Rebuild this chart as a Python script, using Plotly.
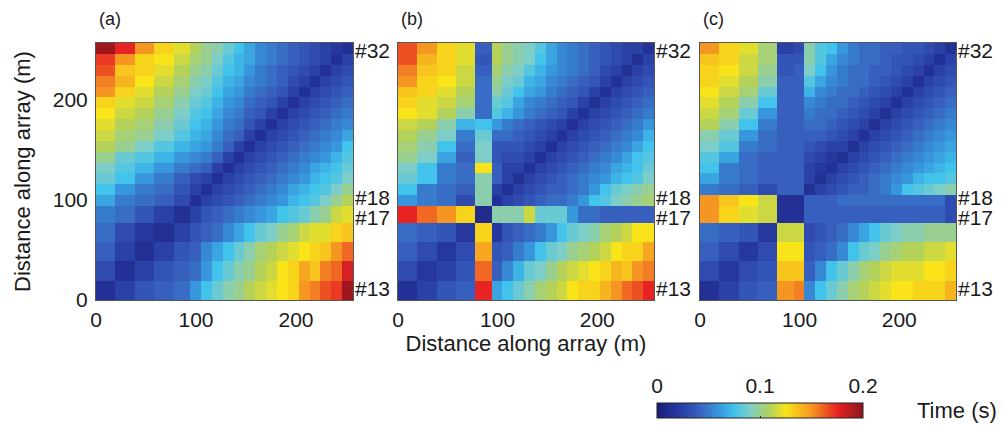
import plotly.graph_objects as go

# ---------------- data ----------------
station_ids = [13, 14, 15, 16, 17, 18, 19, 20, 21, 22, 23, 24, 25, 26, 27, 28, 29, 30, 31, 32]
# cell boundaries (m) of the 20 stations along the array
cell_edges_m = [0.0, 19.4, 38.8, 58.1, 77.5, 94.0, 104.9, 115.7, 126.6, 137.5, 148.3,
                159.2, 170.1, 180.9, 191.8, 202.7, 213.5, 224.4, 235.3, 246.1, 257.0]
labeled_stations = [32, 18, 17, 13]
axis_ticks = [0, 100, 200]
colorbar_ticks = [0, 0.1, 0.2]
colorbar_ticktext = ["0", "0.1", "0.2"]
panel_names = ["(a)", "(b)", "(c)"]

# travel times (s); rows = station #13 (bottom) ... #32 (top)
times_a = [
    [0.015, 0.025, 0.035, 0.040, 0.045, 0.060, 0.075, 0.085, 0.095, 0.100, 0.110, 0.115, 0.120, 0.125, 0.130, 0.150, 0.155, 0.165, 0.170, 0.195],
    [0.030, 0.015, 0.025, 0.035, 0.040, 0.045, 0.060, 0.075, 0.085, 0.095, 0.100, 0.110, 0.115, 0.125, 0.130, 0.145, 0.135, 0.155, 0.160, 0.180],
    [0.040, 0.025, 0.015, 0.025, 0.035, 0.040, 0.055, 0.065, 0.075, 0.085, 0.095, 0.105, 0.110, 0.115, 0.120, 0.125, 0.130, 0.135, 0.150, 0.160],
    [0.045, 0.030, 0.020, 0.015, 0.025, 0.035, 0.040, 0.045, 0.055, 0.065, 0.075, 0.085, 0.090, 0.100, 0.105, 0.115, 0.120, 0.120, 0.130, 0.135],
    [0.050, 0.045, 0.035, 0.025, 0.015, 0.025, 0.035, 0.040, 0.045, 0.050, 0.055, 0.060, 0.065, 0.075, 0.080, 0.085, 0.095, 0.100, 0.115, 0.120],
    [0.065, 0.050, 0.045, 0.040, 0.030, 0.015, 0.025, 0.030, 0.035, 0.040, 0.045, 0.050, 0.055, 0.060, 0.070, 0.075, 0.080, 0.090, 0.100, 0.110],
    [0.075, 0.060, 0.050, 0.045, 0.035, 0.025, 0.015, 0.025, 0.030, 0.035, 0.040, 0.045, 0.050, 0.055, 0.065, 0.070, 0.075, 0.080, 0.090, 0.100],
    [0.085, 0.075, 0.060, 0.050, 0.040, 0.030, 0.025, 0.015, 0.025, 0.030, 0.035, 0.040, 0.045, 0.050, 0.055, 0.060, 0.070, 0.075, 0.080, 0.090],
    [0.090, 0.080, 0.070, 0.060, 0.050, 0.045, 0.040, 0.025, 0.015, 0.025, 0.030, 0.035, 0.040, 0.045, 0.050, 0.055, 0.065, 0.070, 0.075, 0.085],
    [0.100, 0.085, 0.080, 0.070, 0.060, 0.055, 0.050, 0.040, 0.025, 0.015, 0.025, 0.030, 0.035, 0.040, 0.045, 0.050, 0.055, 0.060, 0.070, 0.080],
    [0.110, 0.100, 0.090, 0.080, 0.070, 0.065, 0.060, 0.050, 0.040, 0.025, 0.015, 0.025, 0.030, 0.035, 0.040, 0.045, 0.050, 0.055, 0.060, 0.075],
    [0.115, 0.105, 0.100, 0.090, 0.080, 0.070, 0.065, 0.055, 0.045, 0.040, 0.025, 0.015, 0.025, 0.030, 0.035, 0.040, 0.045, 0.050, 0.055, 0.065],
    [0.120, 0.110, 0.105, 0.095, 0.085, 0.075, 0.070, 0.060, 0.050, 0.045, 0.035, 0.025, 0.015, 0.025, 0.030, 0.035, 0.040, 0.045, 0.050, 0.055],
    [0.125, 0.115, 0.110, 0.100, 0.090, 0.080, 0.075, 0.065, 0.055, 0.050, 0.040, 0.035, 0.025, 0.015, 0.025, 0.030, 0.035, 0.040, 0.045, 0.050],
    [0.130, 0.120, 0.115, 0.105, 0.095, 0.085, 0.080, 0.070, 0.060, 0.055, 0.045, 0.040, 0.035, 0.025, 0.015, 0.025, 0.030, 0.035, 0.040, 0.045],
    [0.150, 0.130, 0.120, 0.110, 0.100, 0.090, 0.085, 0.075, 0.065, 0.060, 0.050, 0.045, 0.040, 0.035, 0.025, 0.015, 0.025, 0.030, 0.035, 0.040],
    [0.155, 0.140, 0.125, 0.115, 0.105, 0.095, 0.090, 0.080, 0.070, 0.065, 0.055, 0.050, 0.045, 0.040, 0.030, 0.025, 0.015, 0.025, 0.030, 0.035],
    [0.165, 0.135, 0.130, 0.120, 0.110, 0.100, 0.095, 0.085, 0.075, 0.070, 0.060, 0.050, 0.045, 0.040, 0.035, 0.030, 0.025, 0.015, 0.025, 0.030],
    [0.170, 0.150, 0.130, 0.125, 0.115, 0.105, 0.100, 0.090, 0.080, 0.070, 0.065, 0.055, 0.050, 0.045, 0.040, 0.035, 0.030, 0.025, 0.015, 0.025],
    [0.195, 0.175, 0.150, 0.130, 0.120, 0.110, 0.100, 0.095, 0.085, 0.075, 0.065, 0.055, 0.050, 0.045, 0.040, 0.035, 0.030, 0.025, 0.020, 0.015],
]

times_b = [
    [0.015, 0.025, 0.035, 0.040, 0.175, 0.065, 0.075, 0.085, 0.095, 0.105, 0.110, 0.115, 0.125, 0.130, 0.130, 0.140, 0.150, 0.160, 0.165, 0.175],
    [0.030, 0.020, 0.025, 0.035, 0.160, 0.040, 0.055, 0.070, 0.085, 0.090, 0.100, 0.110, 0.115, 0.120, 0.125, 0.130, 0.140, 0.135, 0.150, 0.155],
    [0.040, 0.030, 0.020, 0.030, 0.145, 0.035, 0.040, 0.050, 0.060, 0.075, 0.085, 0.090, 0.100, 0.105, 0.110, 0.115, 0.125, 0.130, 0.130, 0.145],
    [0.045, 0.040, 0.035, 0.020, 0.130, 0.020, 0.035, 0.040, 0.045, 0.050, 0.060, 0.075, 0.085, 0.090, 0.095, 0.105, 0.110, 0.115, 0.125, 0.125],
    [0.175, 0.160, 0.150, 0.130, 0.010, 0.095, 0.095, 0.095, 0.115, 0.085, 0.085, 0.085, 0.060, 0.045, 0.045, 0.040, 0.040, 0.040, 0.040, 0.040],
    [0.060, 0.050, 0.045, 0.030, 0.095, 0.015, 0.025, 0.030, 0.035, 0.040, 0.045, 0.045, 0.050, 0.060, 0.075, 0.080, 0.090, 0.095, 0.100, 0.105],
    [0.075, 0.050, 0.045, 0.040, 0.095, 0.025, 0.015, 0.025, 0.030, 0.035, 0.040, 0.040, 0.045, 0.050, 0.060, 0.075, 0.085, 0.090, 0.095, 0.100],
    [0.085, 0.075, 0.050, 0.045, 0.095, 0.040, 0.025, 0.015, 0.025, 0.030, 0.035, 0.040, 0.045, 0.050, 0.055, 0.060, 0.070, 0.075, 0.080, 0.090],
    [0.090, 0.075, 0.050, 0.045, 0.125, 0.040, 0.025, 0.025, 0.015, 0.025, 0.030, 0.035, 0.040, 0.045, 0.050, 0.055, 0.065, 0.070, 0.075, 0.085],
    [0.100, 0.090, 0.065, 0.040, 0.090, 0.035, 0.030, 0.030, 0.025, 0.015, 0.025, 0.030, 0.035, 0.040, 0.045, 0.050, 0.055, 0.065, 0.075, 0.080],
    [0.105, 0.095, 0.075, 0.045, 0.090, 0.035, 0.035, 0.035, 0.030, 0.025, 0.015, 0.025, 0.030, 0.035, 0.040, 0.045, 0.050, 0.055, 0.065, 0.075],
    [0.110, 0.100, 0.090, 0.050, 0.085, 0.045, 0.045, 0.040, 0.035, 0.030, 0.025, 0.015, 0.025, 0.030, 0.035, 0.040, 0.045, 0.050, 0.055, 0.070],
    [0.115, 0.110, 0.095, 0.070, 0.075, 0.060, 0.050, 0.045, 0.040, 0.035, 0.030, 0.025, 0.015, 0.025, 0.030, 0.035, 0.040, 0.045, 0.050, 0.060],
    [0.125, 0.120, 0.110, 0.095, 0.045, 0.080, 0.070, 0.060, 0.050, 0.045, 0.040, 0.035, 0.025, 0.015, 0.025, 0.030, 0.035, 0.040, 0.045, 0.050],
    [0.130, 0.120, 0.115, 0.105, 0.045, 0.085, 0.080, 0.065, 0.055, 0.050, 0.045, 0.040, 0.035, 0.025, 0.015, 0.025, 0.030, 0.035, 0.040, 0.045],
    [0.135, 0.130, 0.120, 0.110, 0.045, 0.095, 0.085, 0.075, 0.065, 0.060, 0.050, 0.045, 0.040, 0.035, 0.025, 0.015, 0.025, 0.030, 0.035, 0.040],
    [0.150, 0.130, 0.125, 0.115, 0.045, 0.100, 0.090, 0.085, 0.070, 0.065, 0.055, 0.050, 0.045, 0.040, 0.035, 0.025, 0.015, 0.025, 0.030, 0.035],
    [0.155, 0.135, 0.130, 0.115, 0.040, 0.105, 0.095, 0.090, 0.080, 0.070, 0.060, 0.055, 0.050, 0.045, 0.040, 0.030, 0.025, 0.015, 0.025, 0.030],
    [0.165, 0.140, 0.130, 0.120, 0.035, 0.110, 0.100, 0.095, 0.090, 0.075, 0.065, 0.055, 0.050, 0.045, 0.040, 0.035, 0.030, 0.025, 0.015, 0.025],
    [0.165, 0.150, 0.130, 0.120, 0.040, 0.110, 0.100, 0.095, 0.090, 0.080, 0.065, 0.055, 0.050, 0.045, 0.040, 0.035, 0.030, 0.025, 0.025, 0.015],
]

times_c = [
    [0.015, 0.025, 0.035, 0.040, 0.150, 0.155, 0.055, 0.075, 0.085, 0.095, 0.105, 0.110, 0.115, 0.120, 0.125, 0.125, 0.130, 0.130, 0.130, 0.140],
    [0.030, 0.020, 0.030, 0.035, 0.135, 0.135, 0.040, 0.055, 0.075, 0.085, 0.095, 0.105, 0.110, 0.115, 0.120, 0.120, 0.120, 0.125, 0.125, 0.130],
    [0.040, 0.030, 0.020, 0.030, 0.125, 0.125, 0.035, 0.040, 0.045, 0.055, 0.075, 0.085, 0.090, 0.100, 0.105, 0.110, 0.110, 0.115, 0.115, 0.120],
    [0.045, 0.040, 0.035, 0.020, 0.115, 0.115, 0.030, 0.035, 0.040, 0.045, 0.055, 0.065, 0.075, 0.085, 0.090, 0.095, 0.095, 0.100, 0.100, 0.100],
    [0.150, 0.130, 0.120, 0.115, 0.015, 0.015, 0.040, 0.040, 0.040, 0.040, 0.040, 0.040, 0.040, 0.040, 0.040, 0.040, 0.040, 0.040, 0.040, 0.030],
    [0.150, 0.135, 0.125, 0.115, 0.015, 0.015, 0.040, 0.040, 0.040, 0.045, 0.045, 0.045, 0.045, 0.045, 0.045, 0.045, 0.045, 0.045, 0.045, 0.030],
    [0.050, 0.045, 0.040, 0.030, 0.040, 0.040, 0.015, 0.025, 0.030, 0.035, 0.040, 0.040, 0.045, 0.050, 0.060, 0.075, 0.080, 0.085, 0.090, 0.095],
    [0.065, 0.050, 0.045, 0.040, 0.040, 0.040, 0.025, 0.015, 0.025, 0.030, 0.035, 0.040, 0.045, 0.050, 0.055, 0.060, 0.070, 0.075, 0.075, 0.080],
    [0.075, 0.050, 0.045, 0.040, 0.040, 0.040, 0.025, 0.020, 0.015, 0.025, 0.030, 0.035, 0.040, 0.045, 0.050, 0.055, 0.060, 0.065, 0.070, 0.075],
    [0.080, 0.065, 0.045, 0.040, 0.040, 0.040, 0.030, 0.025, 0.020, 0.015, 0.025, 0.030, 0.035, 0.040, 0.045, 0.050, 0.055, 0.060, 0.065, 0.070],
    [0.090, 0.080, 0.050, 0.045, 0.040, 0.040, 0.035, 0.030, 0.025, 0.025, 0.015, 0.025, 0.030, 0.035, 0.040, 0.045, 0.050, 0.055, 0.060, 0.065],
    [0.095, 0.085, 0.060, 0.045, 0.040, 0.040, 0.040, 0.040, 0.035, 0.030, 0.025, 0.015, 0.025, 0.030, 0.035, 0.040, 0.045, 0.050, 0.055, 0.060],
    [0.110, 0.095, 0.075, 0.050, 0.040, 0.040, 0.045, 0.045, 0.040, 0.035, 0.030, 0.025, 0.015, 0.025, 0.030, 0.035, 0.040, 0.045, 0.050, 0.055],
    [0.115, 0.105, 0.085, 0.060, 0.040, 0.040, 0.050, 0.045, 0.045, 0.040, 0.035, 0.030, 0.025, 0.015, 0.025, 0.030, 0.035, 0.040, 0.045, 0.050],
    [0.120, 0.110, 0.095, 0.075, 0.040, 0.040, 0.055, 0.050, 0.045, 0.045, 0.040, 0.035, 0.030, 0.025, 0.015, 0.025, 0.030, 0.035, 0.040, 0.045],
    [0.125, 0.115, 0.105, 0.085, 0.040, 0.040, 0.070, 0.055, 0.050, 0.045, 0.045, 0.040, 0.035, 0.030, 0.025, 0.015, 0.025, 0.030, 0.035, 0.040],
    [0.130, 0.120, 0.110, 0.095, 0.040, 0.040, 0.080, 0.065, 0.055, 0.050, 0.045, 0.045, 0.040, 0.035, 0.030, 0.025, 0.015, 0.025, 0.030, 0.035],
    [0.130, 0.125, 0.115, 0.100, 0.035, 0.040, 0.090, 0.075, 0.060, 0.050, 0.045, 0.045, 0.040, 0.040, 0.035, 0.030, 0.025, 0.015, 0.025, 0.030],
    [0.135, 0.130, 0.115, 0.105, 0.035, 0.035, 0.095, 0.080, 0.065, 0.055, 0.050, 0.045, 0.045, 0.040, 0.035, 0.035, 0.030, 0.025, 0.015, 0.025],
    [0.150, 0.130, 0.120, 0.105, 0.025, 0.030, 0.095, 0.080, 0.075, 0.060, 0.050, 0.045, 0.045, 0.040, 0.040, 0.035, 0.035, 0.030, 0.025, 0.015],
]

# ---------------- styling ----------------
W, H = 1004, 427
FONT = "Liberation Sans, Arial, sans-serif"
TXT = "#1a1a1a"

jet_print = [
    [0.0, "rgb(25,30,120)"],
    [0.1, "rgb(38,55,160)"],
    [0.2, "rgb(55,95,190)"],
    [0.3, "rgb(55,150,220)"],
    [0.375, "rgb(65,195,235)"],
    [0.45, "rgb(125,205,200)"],
    [0.55, "rgb(180,210,90)"],
    [0.625, "rgb(248,228,25)"],
    [0.75, "rgb(245,150,35)"],
    [0.875, "rgb(232,35,35)"],
    [1.0, "rgb(140,20,30)"],
]

panel_px = [(96, 353), (398, 654), (700, 956)]
plot_top, plot_bottom = 43, 300
label_nudge = {32: -2, 18: 3, 17: -3, 13: 2}   # small vertical offsets (px) to keep labels apart

fig = go.Figure()
all_times = [times_a, times_b, times_c]
for k, z in enumerate(all_times):
    sfx = "" if k == 0 else str(k + 1)
    fig.add_trace(go.Heatmap(
        z=z, x=cell_edges_m, y=cell_edges_m,
        coloraxis="coloraxis",
        xaxis="x" + sfx, yaxis="y" + sfx,
        hovertemplate="x=%{x}<br>y=%{y}<br>t=%{z} s<extra></extra>",
    ))

# empty trace to create the colour-bar label axis
fig.add_trace(go.Scatter(x=[], y=[], xaxis="x4", yaxis="y4", showlegend=False, hoverinfo="skip"))

common_ax = dict(
    range=[cell_edges_m[0], cell_edges_m[-1]],
    showgrid=False, zeroline=False,
    showline=True, mirror=True, linecolor="#555", linewidth=1,
    ticks="", tickvals=axis_ticks,
    tickfont=dict(family=FONT, size=21, color=TXT),
    automargin=False,
)

ydom = [(H - plot_bottom) / H, (H - plot_top) / H]
layout = dict(
    width=W, height=H,
    margin=dict(l=0, r=0, t=0, b=0),
    paper_bgcolor="white", plot_bgcolor="white",
    font=dict(family=FONT, color=TXT),
    showlegend=False,
    coloraxis=dict(
        cmin=0, cmax=0.2, colorscale=jet_print,
        colorbar=dict(
            orientation="h",
            x=760 / W, xanchor="center",
            y=(H - 403) / H, yanchor="top",
            len=206, lenmode="pixels", thickness=15,
            xpad=0, ypad=0,
            outlinewidth=1, outlinecolor="#222",
            tickvals=colorbar_ticks, ticks="inside", ticklen=2, tickcolor="#222",
            showticklabels=False,
        ),
    ),
)

for k, (x0, x1) in enumerate(panel_px):
    sfx = "" if k == 0 else str(k + 1)
    xa = dict(common_ax, domain=[x0 / W, x1 / W], anchor="y" + sfx, ticklabelstandoff=1)
    ya = dict(common_ax, domain=ydom, anchor="x" + sfx, showticklabels=(k == 0), ticklabelstandoff=3)
    if k == 1:
        xa["title"] = dict(text="Distance along array (m)", font=dict(family=FONT, size=22, color=TXT), standoff=5)
    if k == 0:
        ya["title"] = dict(text="Distance along array (m)", font=dict(family=FONT, size=22, color=TXT), standoff=16)
    layout["xaxis" + sfx] = xa
    layout["yaxis" + sfx] = ya

# colour-bar labels axis (above the bar)
layout["xaxis4"] = dict(
    domain=[657 / W, 863 / W], range=[0, 0.2], anchor="y4", side="top",
    showgrid=False, zeroline=False, showline=False,
    tickvals=colorbar_ticks, ticktext=colorbar_ticktext,
    ticks="", ticklabelstandoff=5, automargin=False,
    tickfont=dict(family=FONT, size=21, color=TXT),
)
layout["yaxis4"] = dict(domain=[(H - 418) / H, (H - 403) / H], anchor="x4", visible=False, range=[0, 1])

annotations = []
for k in range(3):
    sfx = "" if k == 0 else str(k + 1)
    annotations.append(dict(
        text=panel_names[k], xref="x" + sfx + " domain", yref="y" + sfx + " domain",
        x=0.0, y=1.0, xanchor="left", yanchor="bottom", xshift=1, yshift=12,
        showarrow=False, font=dict(family=FONT, size=18, color=TXT),
    ))
    for sid in labeled_stations:
        i = station_ids.index(sid)
        yc = (cell_edges_m[i] + cell_edges_m[i + 1]) / 2
        annotations.append(dict(
            text="#%d" % sid, xref="x" + sfx + " domain", yref="y" + sfx,
            x=1.0, y=yc, xanchor="left", yanchor="middle", xshift=0,
            yshift=label_nudge[sid],
            showarrow=False, font=dict(family=FONT, size=21, color=TXT),
        ))

annotations.append(dict(
    text="Time (s)", xref="paper", yref="paper",
    x=915 / W, y=(H - 410) / H, xanchor="left", yanchor="middle",
    showarrow=False, font=dict(family=FONT, size=22, color=TXT),
))
layout["annotations"] = annotations

fig.update_layout(**layout)
fig.write_html("out.html")
